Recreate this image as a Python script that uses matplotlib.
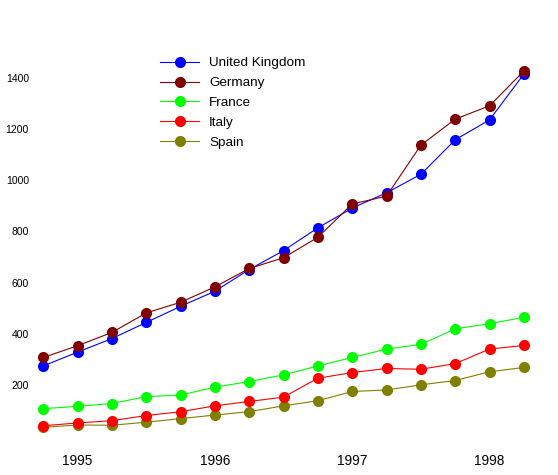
import matplotlib
matplotlib.use("Agg")
import matplotlib.pyplot as plt

plt.rcParams['font.family'] = ['Liberation Sans', 'DejaVu Sans']

# quarterly values, first point is one quarter before 1995
quarters = list(range(15))
year_ticks = [1, 5, 9, 13]
year_labels = ['1995', '1996', '1997', '1998']

uk = [274, 328, 381, 444, 507, 566, 651, 725, 814, 891, 951, 1023, 1158, 1236, 1415]
germany = [307, 353, 405, 481, 523, 583, 655, 697, 777, 907, 938, 1137, 1239, 1291, 1427]
france = [107, 116, 127, 154, 160, 191, 213, 239, 274, 307, 340, 358, 419, 439, 464]
italy = [40, 51, 60, 80, 95, 118, 135, 152, 226, 248, 264, 261, 283, 340, 354]
spain = [34, 43, 42, 54, 68, 82, 95, 118, 138, 174, 180, 200, 217, 251, 268]

series = [
    ('United Kingdom', uk, '#0000ff', 2),
    ('Germany', germany, '#800000', 3),
    ('France', france, '#00ff00', 4),
    ('Italy', italy, '#ff0000', 6),
    ('Spain', spain, '#808000', 5),
]

W, H = 558, 475
fig = plt.figure(figsize=(W / 100, H / 100), dpi=100)
ax = fig.add_axes([33 / W, (H - 436) / H, (541 - 33) / W, (436 - 14) / H])

for name, vals, col, z in series:
    ax.plot(quarters, vals, color=col, lw=0.8, marker='o', ms=8, mew=0,
            label=name, zorder=z, clip_on=False)

ax.set_xlim(-0.3, 14.5)
ax.set_ylim(0, 1650)
ax.set_yticks([200, 400, 600, 800, 1000, 1200, 1400])
ax.set_xticks(year_ticks)
ax.set_xticklabels(year_labels)
ax.tick_params(axis='y', length=0, labelsize=7.5, pad=3)
ax.tick_params(axis='x', length=0, labelsize=9.8, pad=13)
for s in ax.spines.values():
    s.set_visible(False)

ax.legend(loc='upper left', bbox_to_anchor=(160 / W, (H - 57) / H),
          bbox_transform=fig.transFigure, frameon=False, fontsize=9.7,
          handlelength=2.9, handletextpad=0.75, labelspacing=0.55,
          borderpad=0, borderaxespad=0)

fig.savefig('out.png', dpi=100, facecolor='white')
